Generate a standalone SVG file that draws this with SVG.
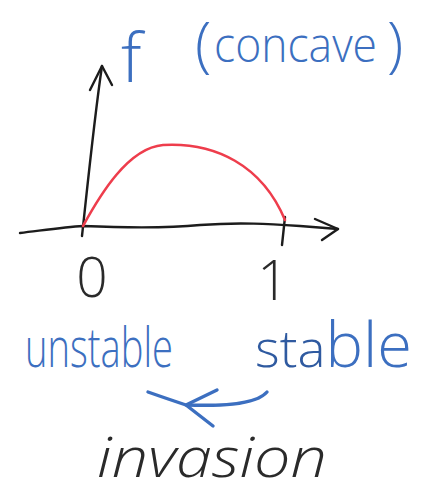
<svg xmlns="http://www.w3.org/2000/svg" width="425" height="494" viewBox="0 0 425 494">
<style>
.ink{fill:none;stroke:#1c1c1c;stroke-width:2.4;stroke-linecap:round;stroke-linejoin:round}
.blue{fill:none;stroke:#3c6fc0;stroke-width:3.4;stroke-linecap:round;stroke-linejoin:round}
.red{fill:none;stroke:#ee3d4c;stroke-width:2.6;stroke-linecap:round}
.hand{font-family:"Open Sans","DejaVu Sans",sans-serif;font-weight:300}
.tb{fill:#3c6fc0}
.tk{fill:#2a2a2a}
</style>
<rect width="425" height="494" fill="#ffffff"/>
<g id="axes">
  <path class="ink" d="M20,233 C45,230 65,227 83,226 C130,228 170,228 200,225 C240,222 270,224 300,226 L338,229"/>
  <path class="ink" d="M315,219 L338,229 L322,240"/>
  <path class="ink" d="M82,236 C86,200 94,120 102,66"/>
  <path class="ink" d="M90,90 L102,66 L112,85"/>
  <path class="ink" d="M285,217 L282,245"/>
</g>
<g id="curve">
  <path class="red" d="M83,226 C100,195 128,148 163,145 C215,142 262,165 285,220"/>
</g>
<g id="labels">
  <text class="hand tb" x="121" y="82" font-size="68">f</text>
  <text class="hand tb" y="66"><tspan x="195" font-size="60">(</tspan><tspan x="214" y="62" font-size="47" textLength="163" lengthAdjust="spacingAndGlyphs">concave</tspan><tspan x="387" y="66" font-size="60">)</tspan></text>
  <text class="hand tk" x="92" y="297" font-size="55" text-anchor="middle">0</text>
  <text class="hand tk" x="273" y="300" font-size="55" text-anchor="middle">1</text>
  <text id="unstable" class="hand tb" x="25" y="367" font-size="56" textLength="148" lengthAdjust="spacingAndGlyphs">unstable</text>
  <text id="stable" class="hand tb" x="255" y="367" textLength="157" lengthAdjust="spacingAndGlyphs"><tspan font-size="52" fill="#2f5aa0">sta</tspan><tspan font-size="62">ble</tspan></text>
  <text id="invasion" class="hand tk" x="97" y="477" font-size="56" font-style="italic" textLength="230" lengthAdjust="spacingAndGlyphs">invasion</text>
</g>
<g id="connectors">
  <path class="blue" d="M148,392 Q165,398 186,405 C215,406 255,406 267,392"/>
  <path class="blue" d="M217,390 L186,405 L213,426"/>
</g>
</svg>
